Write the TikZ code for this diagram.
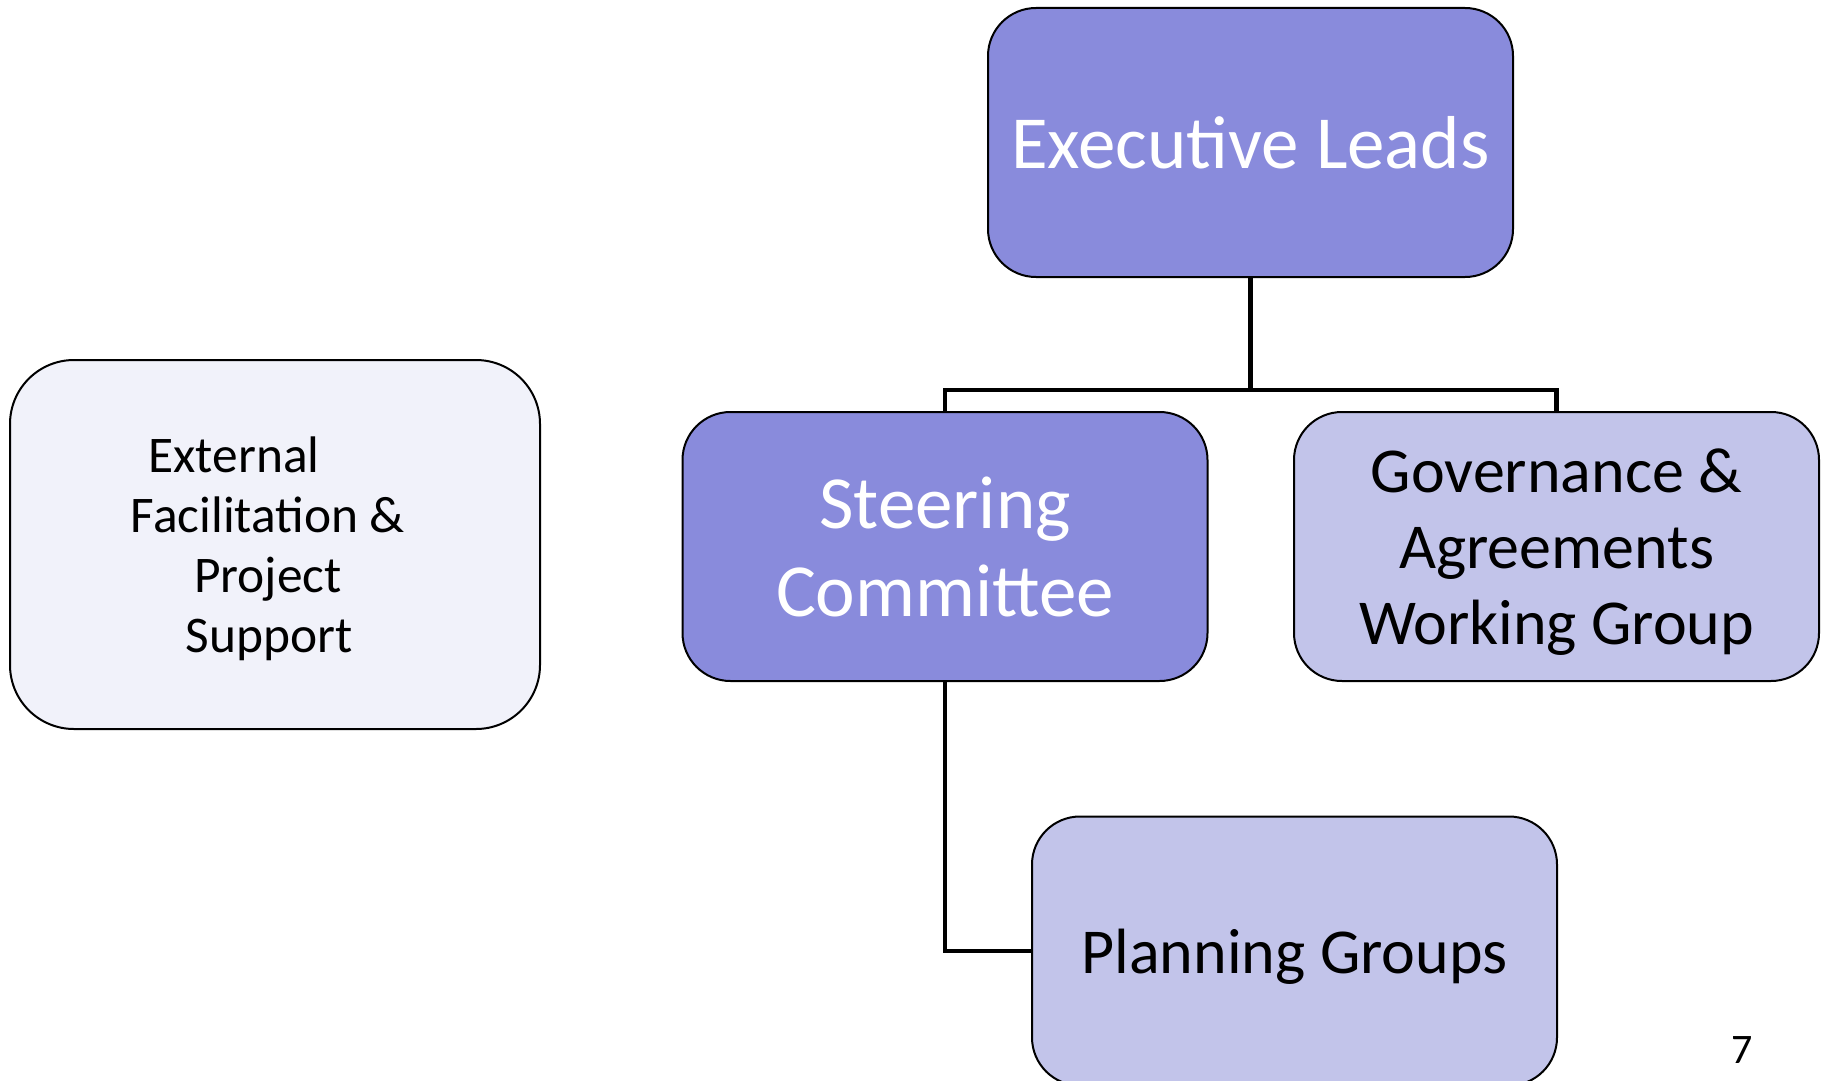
\documentclass[tikz,border=0pt]{standalone}
\usepackage{fontspec}
\setmainfont{Carlito}
\usepackage{tikz}
\usetikzlibrary{positioning}
\usepackage{xcolor}
\definecolor{darkviolet}{RGB}{137,139,220}
\definecolor{lightviolet}{RGB}{194,196,234}
\definecolor{paleviolet}{RGB}{241,242,250}

\begin{document}
\begin{tikzpicture}[
                x=0.5pt, y=-0.5pt,
                darkbox/.style={shape=rectangle, rounded corners=24pt, fill=darkviolet, draw=black, line width=1pt, text=white, align=center, text depth=0pt, minimum width=262.5pt, minimum height=134.5pt},
                lightbox/.style={shape=rectangle, rounded corners=24pt, fill=lightviolet, draw=black, line width=1pt, text=black, align=center, text depth=0pt, minimum width=262.5pt, minimum height=134.5pt},
                palebox/.style={shape=rectangle, rounded corners=32pt, fill=paleviolet, draw=black, line width=1pt, text=black, align=center, text depth=-2pt, minimum width=265pt, minimum height=184.5pt},
                link/.style={draw=black, line width=2.3pt}
                ]
                %% Frame
                \useasboundingbox (0,0) rectangle (1825,1081);
                \clip (0,0) rectangle (1825,1081);

                %% Boxes
                \node[darkbox, font=\fontsize{37.5}{44}\selectfont] (exec) at (1250.5,142.5) {Executive Leads};
                \node[darkbox, font=\fontsize{37.5}{44}\selectfont] (steer) at (945,546.5) {Steering\\Committee};
                \node[lightbox, text depth=-3pt, font=\fontsize{32}{38}\selectfont] (gov) at (1556.5,546.5) {Governance \&\\Agreements\\Working Group};
                \node[lightbox, font=\fontsize{32}{38}\selectfont] (plan) at (1294.5,951) {Planning Groups};
                \node[palebox, font=\fontsize{25.7}{30}\selectfont] (ext) at (275,544.5) {External\hspace*{41pt}\\Facilitation \&\hspace*{7pt}\null\\Project\hspace*{7pt}\null\\Support\hspace*{6pt}};

                % Page number
                \node[font=\fontsize{21}{24}\selectfont] (pagenum) at (1742,1050) {7};

                %% Links
                \coordinate (fork) at (1250.5,390);
                \draw[link] (exec.south) -- (fork);
                \draw[link] (fork) -| (steer.north);
                \draw[link] (fork) -| (gov.north);
                \draw[link] (steer.south) |- (plan.west);
\end{tikzpicture}
\end{document}
